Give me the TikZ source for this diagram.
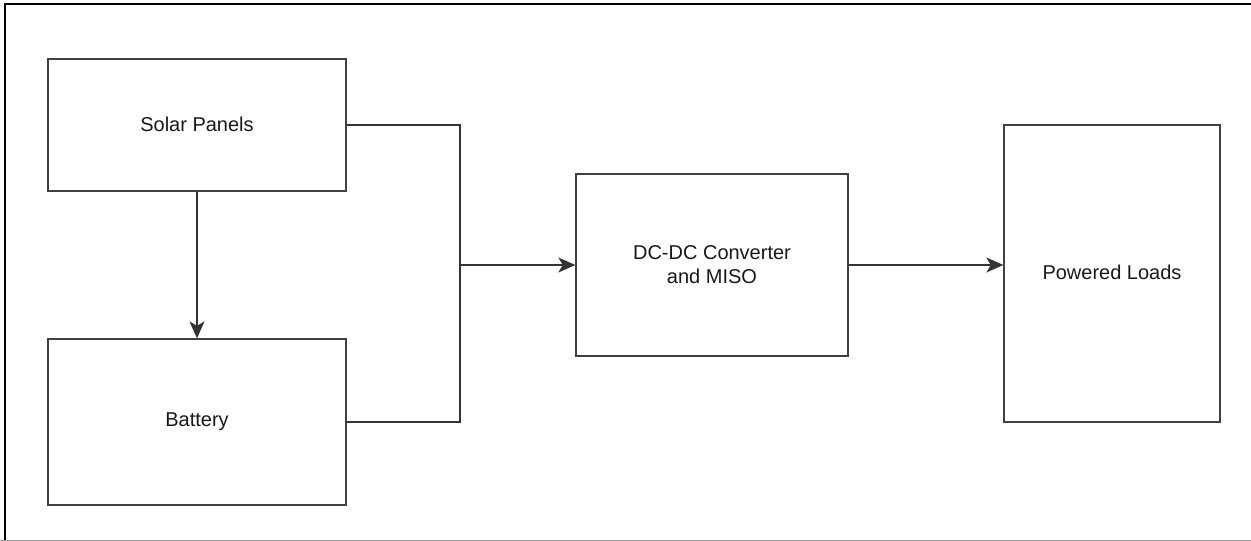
\documentclass[tikz,border=0pt]{standalone}
\usepackage{fontspec}
\setmainfont{Liberation Sans}
\usetikzlibrary{arrows.meta}
\begin{document}
\begin{tikzpicture}[x=1pt,y=-1pt,
  blk/.style={draw=black!75,line width=1.3pt,minimum width=#1,inner sep=0pt,align=center,font=\fontsize{20}{24}\selectfont,text=black!90},
  conn/.style={draw=black!80,line width=1.3pt},
  arr/.style={conn,-{Stealth[length=17pt,width=15pt,inset=4.5pt]}}]
\useasboundingbox (0,0) rectangle (1251,541);
\fill[white] (0,0) rectangle (1251,541);
\draw[black,line width=2.2pt] (5,541) -- (5,4) -- (1251,4);
\draw[black!40,line width=1.2pt] (0,540.5) -- (1251,540.5);
\node[blk=298pt,minimum height=132pt] (solar) at (197,125) {\raisebox{2pt}{Solar Panels}};
\node[blk=298pt,minimum height=166pt] (bat) at (197,422) {Battery};
\node[blk=272pt,minimum height=182pt] (conv) at (712,265) {DC-DC Converter\\and MISO};
\node[blk=216pt,minimum height=297pt] (load) at (1112,273.5) {\raisebox{2pt}{Powered Loads}};
\coordinate (j) at (460,265);
\draw[conn] (solar.east) -| (j) |- (bat.east);
\draw[arr] (j) -- (conv.west);
\draw[arr] (conv.east) -- (conv.east -| load.west);
\draw[arr] (solar.south) -- (bat.north);
\end{tikzpicture}
\end{document}
